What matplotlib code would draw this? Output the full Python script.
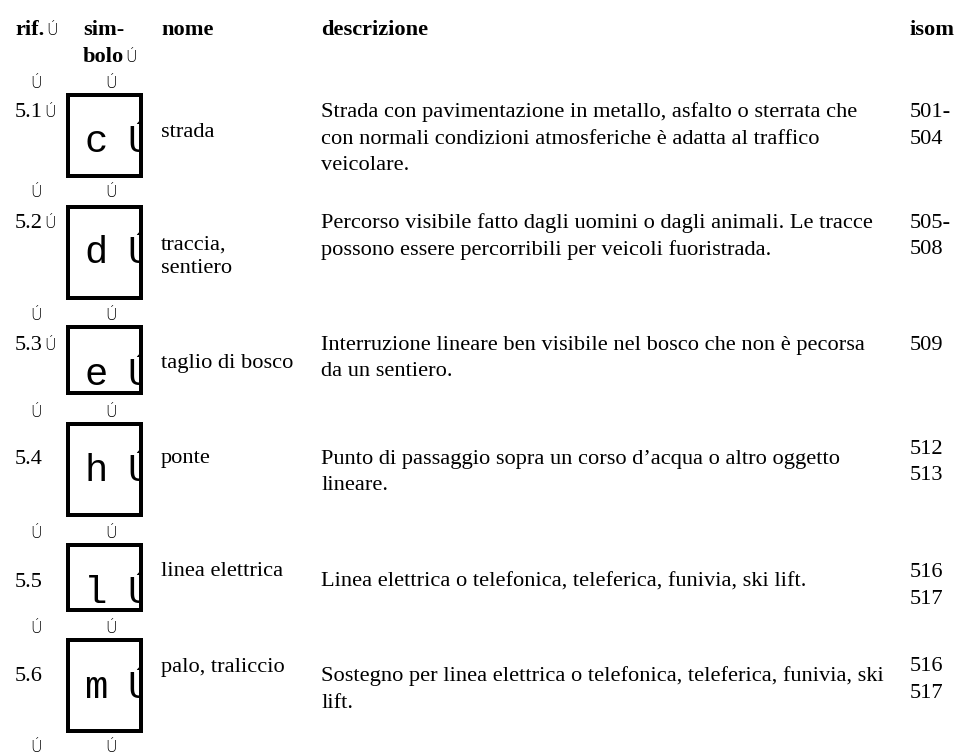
import matplotlib
matplotlib.use("Agg")
import matplotlib.pyplot as plt
from matplotlib.patches import Rectangle
from matplotlib.transforms import Bbox, TransformedBbox

# ---- table content ----
headers = ["rif.", "sim-\nbolo", "nome", "descrizione", "isom"]
refs = ["5.1", "5.2", "5.3", "5.4", "5.5", "5.6"]
ref_marks = [True, True, True, False, False, False]
symbols = ["c", "d", "e", "h", "l", "m"]
names = ["strada", "traccia,\nsentiero", "taglio di bosco", "ponte",
         "linea elettrica", "palo, traliccio"]
descriptions = [
    "Strada con pavimentazione in metallo, asfalto o sterrata che\n"
    "con normali condizioni atmosferiche è adatta al traffico\nveicolare.",
    "Percorso visibile fatto dagli uomini o dagli animali. Le tracce\n"
    "possono essere percorribili per veicoli fuoristrada.",
    "Interruzione lineare ben visibile nel bosco che non è pecorsa\n"
    "da un sentiero.",
    "Punto di passaggio sopra un corso d’acqua o altro oggetto\nlineare.",
    "Linea elettrica o telefonica, teleferica, funivia, ski lift.",
    "Sostegno per linea elettrica o telefonica, teleferica, funivia, ski\nlift.",
]
isoms = ["501-\n504", "505-\n508", "509", "512\n513", "516\n517", "516\n517"]
MARK = "Ú"

# ---- layout (pixels) ----
W, H = 957, 755
col_x = [15, 83, 161, 321, 910]
header_base = 35
line_h = 26.5
row_base = [117, 228, 350, 464, 587, 681]
name_base = [137, 250, 368, 463, 576, 672]
isom_shift = [0, 0, 0, -10, -10, -10]
box_top = [93, 205, 325, 422, 543, 638]
box_bot = [178, 300, 395, 517, 612, 733]
sym_base = [152, 263, 385, 481, 603, 698]
mark_rows = [88, 197, 320, 417, 538, 633, 752]
box_x0, box_x1 = 66, 143
lw_px = 4

serif = "Liberation Serif"
fs = 16.1

fig = plt.figure(figsize=(W / 100, H / 100), dpi=100)
ax = fig.add_axes([0, 0, 1, 1])
ax.set_xlim(0, W)
ax.set_ylim(H, 0)
ax.axis("off")


def put(x, y, s, **kw):
    kw.setdefault("family", serif)
    kw.setdefault("fontsize", fs)
    kw.setdefault("va", "baseline")
    kw.setdefault("ha", "left")
    return ax.text(x, y, s, color="black", **kw)


def put_lines(x, y, s, step=line_h, **kw):
    for i, line in enumerate(s.split("\n")):
        put(x, y + i * step, line, **kw)


def mark(x, y, ha="left"):
    put(x, y, MARK, family="DejaVu Sans", fontsize=11.5, ha=ha,
        fontweight="light")


# headers
put(col_x[0], header_base, headers[0], weight="bold")
mark(46, header_base)
h1 = headers[1].split("\n")
put(col_x[1], header_base, h1[0], weight="bold")
put(col_x[1], header_base + 27, h1[1], weight="bold")
mark(125, header_base + 27)
for c in (2, 3, 4):
    put(col_x[c], header_base, headers[c], weight="bold")

# separator marks
for y in mark_rows:
    mark(36, y, ha="center")
    mark(111, y, ha="center")

for i in range(len(refs)):
    put(col_x[0], row_base[i], refs[i])
    if ref_marks[i]:
        mark(44, row_base[i])
    # symbol box
    off = lw_px / 2
    rect = Rectangle((box_x0 + off, box_top[i] + off),
                     box_x1 - box_x0 - lw_px, box_bot[i] - box_top[i] - lw_px,
                     fill=False, edgecolor="black", linewidth=lw_px * 0.72,
                     joinstyle="miter", zorder=3)
    ax.add_patch(rect)
    put(96, sym_base[i], symbols[i], family="Liberation Mono",
        fontsize=28, ha="center")
    cb = TransformedBbox(Bbox([[box_x0, box_top[i]],
                               [box_x1 - lw_px + 1, box_bot[i]]]),
                         ax.transData)
    t = ax.text(127, sym_base[i], MARK, family="Liberation Mono", fontsize=27,
                va="baseline", ha="left", color="black", zorder=2)
    t.set_clip_box(cb)
    t.set_clip_on(True)
    # name
    put_lines(col_x[2], name_base[i], names[i], step=23)
    # description
    put_lines(col_x[3], row_base[i], descriptions[i])
    # isom
    put_lines(col_x[4], row_base[i] + isom_shift[i], isoms[i])

fig.savefig("out.png", dpi=100)
